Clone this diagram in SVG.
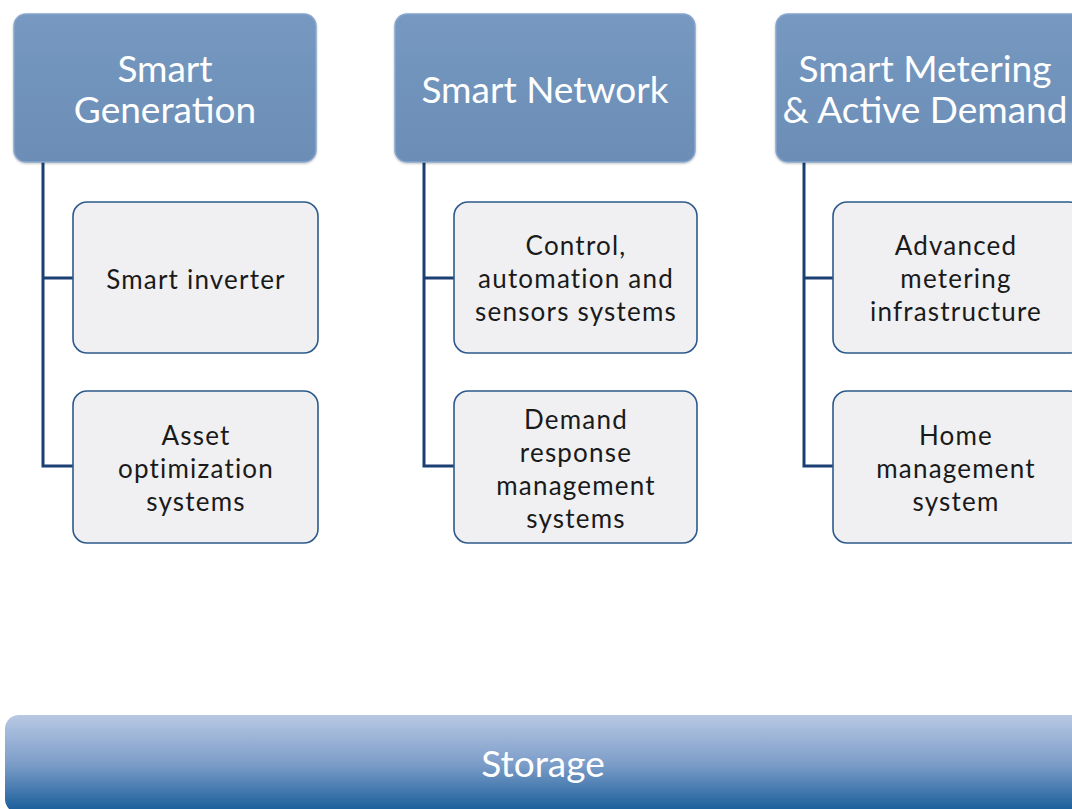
<svg xmlns="http://www.w3.org/2000/svg" width="1072" height="809" viewBox="0 0 1072 809">
<defs>
<linearGradient id="topg" x1="0" y1="0" x2="0" y2="1">
<stop offset="0" stop-color="#7799c1"/>
<stop offset="0.5" stop-color="#7093bb"/>
<stop offset="1" stop-color="#6c8eb6"/>
</linearGradient>
<linearGradient id="storg" x1="0" y1="0" x2="0" y2="1">
<stop offset="0" stop-color="#b8c8e4"/>
<stop offset="0.5" stop-color="#7c9dc8"/>
<stop offset="1" stop-color="#145b98"/>
</linearGradient>
<filter id="sh" x="-5%" y="-5%" width="110%" height="115%">
<feDropShadow dx="0" dy="1" stdDeviation="1" flood-color="#000" flood-opacity="0.25"/>
</filter>
</defs>
<style>
.top{fill:url(#topg);stroke:#86a6cc;stroke-width:1.5;filter:url(#sh)}
.child{fill:#f0f0f2;stroke:#2d5a8a;stroke-width:1.6}
.tt{font-family:Lato,"Open Sans",sans-serif;font-size:37px;fill:#ffffff;text-anchor:middle}
.ct{font-family:Lato,"Open Sans",sans-serif;font-size:26px;letter-spacing:1.2px;fill:#1a1a1a;text-anchor:middle}
.st{font-family:Lato,"Open Sans",sans-serif;font-size:37px;fill:#ffffff;text-anchor:middle}
.con{fill:none;stroke:#1b3f73;stroke-width:3}
</style>
<rect width="1072" height="809" fill="#ffffff"/>
<g id="connectors">
<path class="con" d="M43,162 V466 H73 M43,278 H73"/>
<path class="con" d="M424,162 V466 H454 M424,278 H454"/>
<path class="con" d="M804,162 V466 H833 M804,278 H833"/>
</g>
<g id="smart-generation">
<rect class="top" x="14" y="14" width="302" height="148" rx="12"/>
<text class="tt" x="165" y="82">Smart</text>
<text class="tt" x="165" y="123">Generation</text>
</g>
<g id="smart-network">
<rect class="top" x="395" y="14" width="300" height="148" rx="12"/>
<text class="tt" x="545" y="103">Smart Network</text>
</g>
<g id="smart-metering">
<rect class="top" x="776" y="14" width="310" height="148" rx="12"/>
<text class="tt" x="925" y="82">Smart Metering</text>
<text class="tt" x="925" y="123">&amp; Active Demand</text>
</g>
<g id="smart-inverter">
<rect class="child" x="73" y="202" width="245" height="151" rx="14"/>
<text class="ct" x="196" y="289">Smart inverter</text>
</g>
<g id="asset-optimization">
<rect class="child" x="73" y="391" width="245" height="152" rx="14"/>
<text class="ct" x="196" y="445">Asset</text>
<text class="ct" x="196" y="478">optimization</text>
<text class="ct" x="196" y="511">systems</text>
</g>
<g id="control-automation">
<rect class="child" x="454" y="202" width="243" height="151" rx="14"/>
<text class="ct" x="576" y="255">Control,</text>
<text class="ct" x="576" y="288">automation and</text>
<text class="ct" x="576" y="321">sensors systems</text>
</g>
<g id="demand-response">
<rect class="child" x="454" y="391" width="243" height="152" rx="14"/>
<text class="ct" x="576" y="429">Demand</text>
<text class="ct" x="576" y="462">response</text>
<text class="ct" x="576" y="495">management</text>
<text class="ct" x="576" y="528">systems</text>
</g>
<g id="advanced-metering">
<rect class="child" x="833" y="202" width="250" height="151" rx="14"/>
<text class="ct" x="956" y="255">Advanced</text>
<text class="ct" x="956" y="288">metering</text>
<text class="ct" x="956" y="321">infrastructure</text>
</g>
<g id="home-management">
<rect class="child" x="833" y="391" width="250" height="152" rx="14"/>
<text class="ct" x="956" y="445">Home</text>
<text class="ct" x="956" y="478">management</text>
<text class="ct" x="956" y="511">system</text>
</g>
<g id="storage">
<rect x="5" y="715" width="1090" height="98" rx="14" fill="url(#storg)"/>
<text class="st" x="543" y="777">Storage</text>
</g>
</svg>
